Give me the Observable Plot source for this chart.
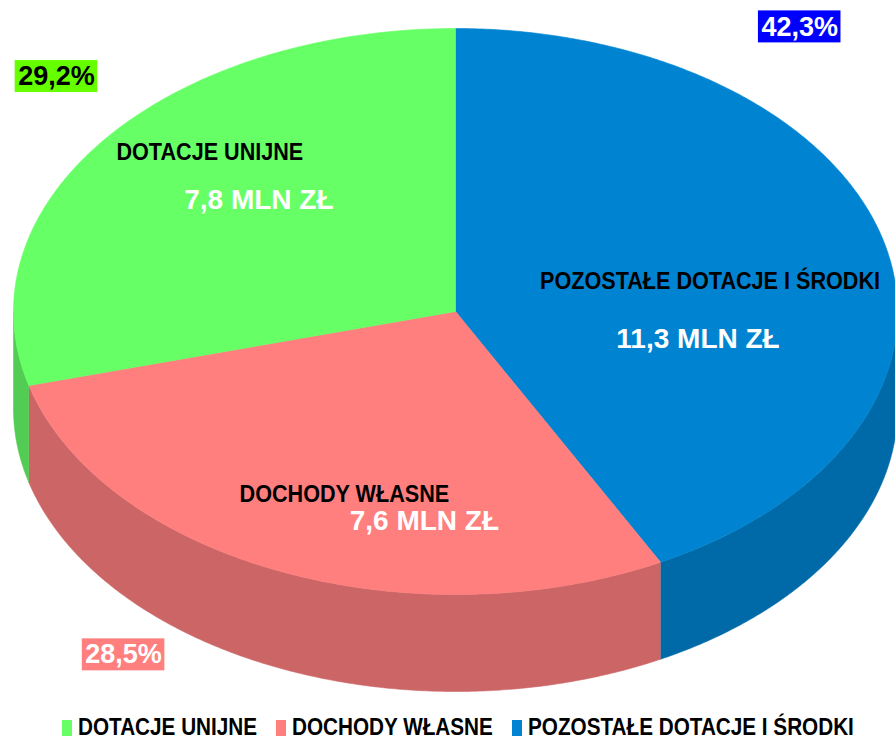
<!DOCTYPE html>
<html>
<head>
<meta charset="utf-8">
<script src="https://cdn.jsdelivr.net/npm/d3@7"></script>
<script src="https://cdn.jsdelivr.net/npm/@observablehq/plot@0.6"></script>
<style>
  html, body { margin: 0; padding: 0; background: white; }
  #chart { width: 895px; }
  .legend { display: flex; justify-content: center; align-items: center; height: 25px; padding-left: 20px; box-sizing: border-box;
    font-family: "Liberation Sans Narrow", "Liberation Sans", Arial, sans-serif;
    font-weight: bold; font-size: 23px; color: #000; white-space: nowrap; }
  .legend .item { display: flex; align-items: center; margin-right: 19px; }
  .legend .item:last-child { margin-right: 0; }
  .legend .sw { display: inline-block; width: 10px; height: 16px; margin-right: 6px; }
  .legend .txt { display: inline-block; overflow: visible; }
  .legend .txt span { display: inline-block; transform-origin: left center; }
</style>
</head>
<body>
<div id="chart"></div>
<script>
// ---- data ----
const categories = ["POZOSTAŁE DOTACJE I ŚRODKI", "DOCHODY WŁASNE", "DOTACJE UNIJNE"];
const values = [11.3, 7.6, 7.8];
const valueLabels = ["11,3 MLN ZŁ", "7,6 MLN ZŁ", "7,8 MLN ZŁ"];
const percentLabels = ["42,3%", "28,5%", "29,2%"];
const topColors = ["#0084D1", "#FF7F7F", "#66FF66"];
const sideColors = ["#006AA8", "#CC6666", "#52CC52"];
const pctBackground = ["#0000FF", "#FF7F7F", "#66FF00"];
const pctText = ["#FFFFFF", "#FFFFFF", "#000000"];
const legendOrder = ["DOTACJE UNIJNE", "DOCHODY WŁASNE", "POZOSTAŁE DOTACJE I ŚRODKI"];

// ---- geometry ----
const W = 895, H = 715;
const cx = 455, cy = 311, rx = 442, ry = 283, depth = 97;
const narrowFactor = 0.9;
const pt = (a, dy = 0) => ({x: cx + rx * Math.sin(a), y: cy - ry * Math.cos(a) + dy});
const arcPts = (a0, a1, dy = 0) => {
  const n = Math.max(2, Math.ceil((a1 - a0) / (Math.PI / 360)));
  return d3.range(n + 1).map(i => pt(a0 + (a1 - a0) * i / n, dy));
};
const arcs = d3.pie().sort(null).startAngle(0).endAngle(2 * Math.PI)(values);

const sides = [], tops = [];
arcs.forEach((a, i) => {
  const s0 = Math.max(a.startAngle, Math.PI / 2), s1 = Math.min(a.endAngle, 3 * Math.PI / 2);
  if (s0 < s1) sides.push({i, pts: [...arcPts(s0, s1), ...arcPts(s0, s1, depth).reverse()]});
  tops.push({i, pts: [{x: cx, y: cy}, ...arcPts(a.startAngle, a.endAngle), {x: cx, y: cy}]});
});

// label anchors derived from slice mid-angles
const mid = a => (a.startAngle + a.endAngle) / 2;
const inner = arcs.map(a => ({x: cx + 0.6 * rx * Math.sin(mid(a)), y: cy - 0.6 * ry * Math.cos(mid(a))}));
const rim = arcs.map(a => pt(mid(a)));
const nameOff = [[-3, 10], [-5, 27], [-35, -56]];
const valOff = [[-15, 68], [75, 54], [14, -8]];
const pctOff = [[-85, -217], [-155, 84], [-48, -63]];

const charW = c => /[0-9]/.test(c) ? 0.556 : c === "," ? 0.278 : c === "%" ? 0.889 : 0.6;
const pctSize = 27;
const pctData = arcs.map((a, i) => {
  const x = rim[i].x + pctOff[i][0], y = rim[i].y + pctOff[i][1];
  const w = d3.sum([...percentLabels[i]], charW) * pctSize;
  return {i, x, y, x1: x - w / 2 - 3, x2: x + w / 2 + 3, y1: y - 16, y2: y + 16, text: percentLabels[i]};
});

const narrow = "'Liberation Sans Narrow', 'Liberation Sans', Arial, sans-serif";
const bold = "'Liberation Sans', Arial, sans-serif";

const marks = [
  ...sides.map(s => Plot.line(s.pts, {x: "x", y: "y", fill: sideColors[s.i], stroke: sideColors[s.i], strokeWidth: 0.6})),
  ...tops.map(s => Plot.line(s.pts, {x: "x", y: "y", fill: topColors[s.i], stroke: topColors[s.i], strokeWidth: 0.6})),
  ...arcs.map((a, i) => Plot.text([categories[i]], {x: () => inner[i].x + nameOff[i][0], y: () => inner[i].y + nameOff[i][1],
      text: d => d, fontFamily: narrow, fontWeight: "bold", fontSize: 24, fill: "#000"})),
  ...arcs.map((a, i) => Plot.text([valueLabels[i]], {x: () => inner[i].x + valOff[i][0], y: () => inner[i].y + valOff[i][1],
      text: d => d, fontFamily: bold, fontWeight: "bold", fontSize: 28, fill: "#fff"})),
  ...pctData.map(d => Plot.rect([d], {x1: "x1", x2: "x2", y1: "y1", y2: "y2", fill: pctBackground[d.i]})),
  ...pctData.map(d => Plot.text([d], {x: "x", y: "y", text: "text", fontFamily: bold, fontWeight: "bold", fontSize: pctSize, fill: pctText[d.i]}))
];

const chart = Plot.plot({
  width: W, height: H, margin: 0,
  x: {domain: [0, W], range: [0, W], axis: null},
  y: {domain: [0, H], range: [0, H], axis: null},
  style: {background: "white", overflow: "visible"},
  marks
});
document.getElementById("chart").appendChild(chart);

// condense the category labels (narrow bold face)
chart.querySelectorAll('g[font-family*="Narrow"] text').forEach(t => {
  const w = t.getComputedTextLength();
  t.setAttribute("textLength", (w * narrowFactor).toFixed(1));
  t.setAttribute("lengthAdjust", "spacingAndGlyphs");
});

// legend
const legend = document.createElement("div");
legend.className = "legend";
document.getElementById("chart").appendChild(legend);
legendOrder.forEach(name => {
  const i = categories.indexOf(name);
  const item = document.createElement("span");
  item.className = "item";
  const sw = document.createElement("span");
  sw.className = "sw";
  sw.style.background = topColors[i];
  const txt = document.createElement("span");
  txt.className = "txt";
  const inner = document.createElement("span");
  inner.textContent = name;
  txt.appendChild(inner);
  item.appendChild(sw);
  item.appendChild(txt);
  legend.appendChild(item);
  const w = inner.getBoundingClientRect().width;
  inner.style.transform = `scaleX(${narrowFactor})`;
  txt.style.width = (w * narrowFactor) + "px";
});
</script>
</body>
</html>
